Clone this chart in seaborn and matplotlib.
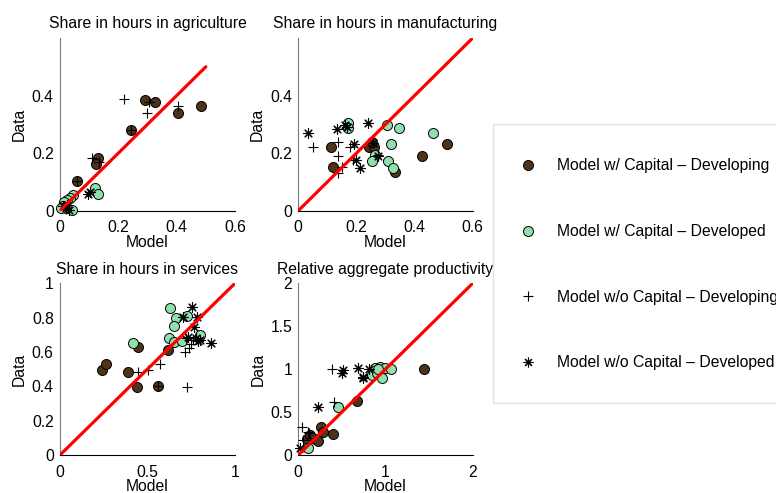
import matplotlib
matplotlib.use("Agg")
import matplotlib.pyplot as plt
from matplotlib.lines import Line2D
from matplotlib.patches import Rectangle
import seaborn as sns
import pandas as pd

# ---- Model vs. data, (model, data) pairs per country group ----
AGR_CAP_DEVING = [(0.29, 0.385), (0.326, 0.379), (0.406, 0.34), (0.483, 0.365), (0.245, 0.28),
                  (0.131, 0.182), (0.125, 0.161), (0.057, 0.103)]
AGR_CAP_DEVED = [(0.12, 0.08), (0.131, 0.058), (0.045, 0.055), (0.035, 0.045), (0.025, 0.038),
                 (0.015, 0.03), (0.01, 0.018), (0.04, 0.003), (0.02, 0.01), (0.005, 0.008)]
AGR_NOCAP_DEVING = [(0.221, 0.387), (0.297, 0.341), (0.305, 0.378), (0.403, 0.365), (0.245, 0.28),
                    (0.111, 0.182), (0.135, 0.17), (0.057, 0.103)]
AGR_NOCAP_DEVED = [(0.103, 0.066), (0.097, 0.057), (0.02, 0.01), (0.03, 0.004), (0.01, 0.015),
                   (0.025, 0.02)]

MAN_CAP_DEVING = [(0.112, 0.223), (0.12, 0.151), (0.243, 0.223), (0.262, 0.222), (0.255, 0.238),
                  (0.333, 0.136), (0.424, 0.191), (0.513, 0.231)]
MAN_CAP_DEVED = [(0.172, 0.306), (0.172, 0.286), (0.304, 0.298), (0.346, 0.286), (0.465, 0.269),
                 (0.318, 0.231), (0.264, 0.194), (0.255, 0.174), (0.307, 0.174), (0.325, 0.147)]
MAN_NOCAP_DEVING = [(0.052, 0.223), (0.138, 0.238), (0.135, 0.191), (0.178, 0.223), (0.149, 0.153),
                    (0.138, 0.13), (0.258, 0.234), (0.275, 0.194), (0.189, 0.176)]
MAN_NOCAP_DEVED = [(0.032, 0.269), (0.132, 0.284), (0.161, 0.298), (0.169, 0.292), (0.241, 0.304),
                   (0.193, 0.231), (0.198, 0.176), (0.212, 0.147), (0.273, 0.191), (0.258, 0.234)]

SRV_CAP_DEVING = [(0.238, 0.495), (0.263, 0.528), (0.39, 0.485), (0.438, 0.394), (0.447, 0.631),
                  (0.562, 0.402), (0.619, 0.611)]
SRV_CAP_DEVED = [(0.415, 0.654), (0.629, 0.856), (0.665, 0.796), (0.724, 0.81), (0.653, 0.754),
                 (0.62, 0.68), (0.65, 0.66), (0.695, 0.663), (0.8, 0.699)]
SRV_NOCAP_DEVING = [(0.447, 0.485), (0.505, 0.495), (0.571, 0.53), (0.562, 0.402), (0.724, 0.398),
                    (0.714, 0.602), (0.735, 0.625), (0.75, 0.645), (0.76, 0.67), (0.72, 0.68)]
SRV_NOCAP_DEVED = [(0.752, 0.86), (0.705, 0.802), (0.781, 0.806), (0.768, 0.747), (0.733, 0.685),
                   (0.79, 0.666), (0.861, 0.654), (0.775, 0.68), (0.8, 0.67)]

PRD_CAP_DEVING = [(1.445, 0.998), (0.67, 0.629), (0.26, 0.33), (0.287, 0.272), (0.394, 0.25),
                  (0.096, 0.182), (0.191, 0.182), (0.134, 0.233), (0.229, 0.16)]
PRD_CAP_DEVED = [(0.452, 0.563), (0.115, 0.078), (0.88, 1.01), (0.937, 1.02), (0.994, 1.01),
                 (1.06, 1.0), (0.842, 0.932), (0.899, 0.95), (0.963, 0.893), (0.917, 1.0)]
PRD_NOCAP_DEVING = [(0.39, 0.998), (0.413, 0.621), (0.046, 0.33), (0.123, 0.253), (0.115, 0.272),
                    (0.13, 0.2), (0.05, 0.17)]
PRD_NOCAP_DEVED = [(0.516, 0.99), (0.497, 0.959), (0.681, 1.01), (0.81, 1.0), (0.738, 0.893),
                   (0.745, 0.91), (0.222, 0.563), (0.02, 0.078)]

TITLES = ["Share in hours in agriculture", "Share in hours in manufacturing",
          "Share in hours in services", "Relative aggregate productivity"]
DIAG_END = [0.5, 0.6, 1.0, 2.0]
XLIMS = [0.6, 0.6, 1.0, 2.0]
YLIMS = [0.6, 0.6, 1.0, 2.0]
XTICKS = [[0, 0.2, 0.4, 0.6], [0, 0.2, 0.4, 0.6], [0, 0.5, 1], [0, 1, 2]]
YTICKS = [[0, 0.2, 0.4], [0, 0.2, 0.4], [0, 0.2, 0.4, 0.6, 0.8, 1], [0, 0.5, 1, 1.5, 2]]
GROUP_LABELS = ["Model w/ Capital \u2013 Developing", "Model w/ Capital \u2013 Developed",
                "Model w/o Capital \u2013 Developing", "Model w/o Capital \u2013 Developed"]

PANELS = [
    [AGR_CAP_DEVING, AGR_CAP_DEVED, AGR_NOCAP_DEVING, AGR_NOCAP_DEVED],
    [MAN_CAP_DEVING, MAN_CAP_DEVED, MAN_NOCAP_DEVING, MAN_NOCAP_DEVED],
    [SRV_CAP_DEVING, SRV_CAP_DEVED, SRV_NOCAP_DEVING, SRV_NOCAP_DEVED],
    [PRD_CAP_DEVING, PRD_CAP_DEVED, PRD_NOCAP_DEVING, PRD_NOCAP_DEVED],
]

BROWN = "#4d3319"
GREEN = "#8fe0ae"
ASTER = (8, 2, 0)
STYLES = [
    dict(marker="o", color=BROWN, edgecolor="black", linewidth=0.7, s=52),
    dict(marker="o", color=GREEN, edgecolor="black", linewidth=0.7, s=52),
    dict(marker="+", color="black", linewidth=0.8, s=60),
    dict(marker=ASTER, color="black", linewidth=0.8, s=48),
]

sns.set_style("white")
plt.rcParams["font.family"] = ["Liberation Sans", "DejaVu Sans"]
plt.rcParams["text.color"] = "black"
plt.rcParams["axes.labelcolor"] = "black"
plt.rcParams["xtick.color"] = "black"
plt.rcParams["ytick.color"] = "black"
FS = 11.3

W, H = 776, 493
fig = plt.figure(figsize=(W / 100, H / 100), dpi=100)

# axes boxes in pixels: left, top, right, bottom
boxes = [(60, 38, 235, 210.7), (298.3, 38, 472.7, 210.7),
         (60, 283.3, 235, 455), (298.3, 283.3, 472.7, 455)]


def fmt(v):
    return f"{v:g}"


for i, (l, t, r, b) in enumerate(boxes):
    ax = fig.add_axes([l / W, 1 - b / H, (r - l) / W, (b - t) / H])
    for pts, st in zip(PANELS[i], STYLES):
        df = pd.DataFrame(pts, columns=["Model", "Data"])
        sns.scatterplot(data=df, x="Model", y="Data", ax=ax, legend=False,
                        zorder=3, clip_on=False, **st)
    diag = pd.DataFrame({"Model": [0, DIAG_END[i]], "Data": [0, DIAG_END[i]]})
    sns.lineplot(data=diag, x="Model", y="Data", ax=ax, color="#ff0000",
                 linewidth=2.3, zorder=4)
    ax.set_xlim(0, XLIMS[i])
    ax.set_ylim(0, YLIMS[i])
    ax.set_xticks(XTICKS[i])
    ax.set_xticklabels([fmt(v) for v in XTICKS[i]])
    ax.set_yticks(YTICKS[i])
    ax.set_yticklabels([fmt(v) for v in YTICKS[i]])
    ax.tick_params(axis="both", direction="in", length=3, width=0.6, labelsize=FS,
                   colors="black")
    ax.tick_params(axis="x", pad=7)
    ax.tick_params(axis="y", pad=4.5)
    ax.set_xlabel("Model", fontsize=FS, labelpad=-0.5, color="black")
    ax.set_ylabel("Data", fontsize=FS, labelpad=3.5, color="black")
    ax.set_title(TITLES[i], fontsize=FS, pad=7, color="black")
    sns.despine(ax=ax)
    ax.spines["left"].set_color("#7a7a7a")
    ax.spines["bottom"].set_color("black")
    ax.spines["left"].set_linewidth(0.8)
    ax.spines["bottom"].set_linewidth(0.8)

# legend with its own light frame
fig.patches.append(Rectangle((493.3 / W, 1 - 402.7 / H), 1.0, (402.7 - 124) / H,
                             transform=fig.transFigure, facecolor="white",
                             edgecolor="#e3e3e3", linewidth=1.0, zorder=0))
handles = [
    Line2D([], [], linestyle="none", marker="o", markerfacecolor=BROWN,
           markeredgecolor="black", markeredgewidth=0.7, markersize=7.2),
    Line2D([], [], linestyle="none", marker="o", markerfacecolor=GREEN,
           markeredgecolor="black", markeredgewidth=0.7, markersize=7.2),
    Line2D([], [], linestyle="none", marker="+", color="black",
           markeredgewidth=0.8, markersize=7.5),
    Line2D([], [], linestyle="none", marker=ASTER, color="black",
           markeredgewidth=0.8, markersize=7),
]
leg = fig.legend(handles, GROUP_LABELS, loc="upper left",
                 bbox_to_anchor=(519.9 / W, 1 - 158.3 / H), frameon=False,
                 fontsize=FS, handlelength=1.0, handletextpad=1.34, labelspacing=3.23,
                 borderpad=0, borderaxespad=0)
for txt in leg.get_texts():
    txt.set_color("black")

fig.savefig("out.png", dpi=100)
